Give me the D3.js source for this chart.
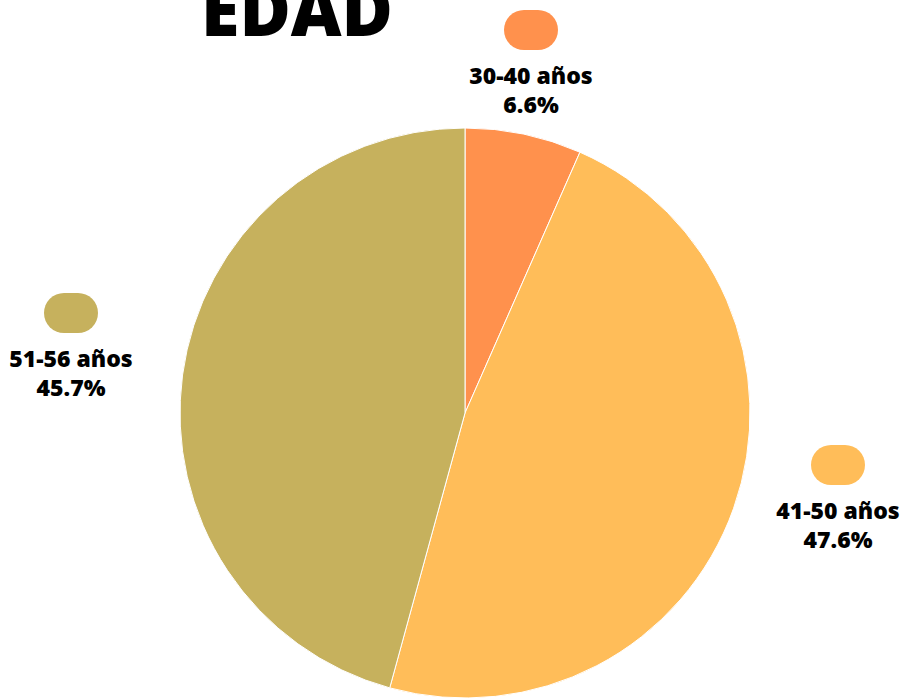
<!DOCTYPE html>
<html>
<head>
<meta charset="utf-8">
<style>
  body { margin: 0; background: #fff; }
  text { font-family: "Open Sans", sans-serif; }
</style>
<script src="https://d3js.org/d3.v7.min.js"></script>
</head>
<body>
<svg id="pie" width="903" height="700"></svg>
<script>
const categories = ["30-40 años", "41-50 años", "51-56 años"];
const values = [6.6, 47.6, 45.7];
const colors = ["#FF914D", "#FFBD59", "#C6B15D"];
// legend spots (pill + two text lines) per category
const legendPos = [[531, 30], [838, 465], [71, 313]];

const svg = d3.select("svg#pie");
const cx = 465, cy = 413, radius = 285;

const pie = d3.pie().sort(null).value(d => d);
const arc = d3.arc().innerRadius(0).outerRadius(radius);

let slices = svg.append("g")
  .attr("transform", "translate(" + cx + "," + cy + ")");

slices.selectAll("path")
  .data(pie(values))
  .enter().append("path")
  .attr("d", arc)
  .attr("fill", (d, i) => colors[i])
  .attr("stroke", "#fff")
  .attr("stroke-width", 1);

// title sits partly above the top edge, like the original
svg.append("text")
  .attr("x", 297)
  .attr("y", 36)
  .attr("text-anchor", "middle")
  .style("font-size", "70px")
  .style("font-weight", 800)
  .attr("fill", "#000")
  .text("EDAD");

let legend = svg.append("g");

categories.forEach((c, i) => {
  let p = legendPos[i];
  legend.append("rect")
    .attr("x", p[0] - 27)
    .attr("y", p[1] - 20)
    .attr("width", 54)
    .attr("height", 40)
    .attr("rx", 20)
    .attr("fill", colors[i]);

  legend.append("text")
    .attr("x", p[0])
    .attr("y", p[1] + 54)
    .attr("text-anchor", "middle")
    .style("font-size", "23px")
    .style("font-weight", 800)
    .text(c);

  legend.append("text")
    .attr("x", p[0])
    .attr("y", p[1] + 83)
    .attr("text-anchor", "middle")
    .style("font-size", "23px")
    .style("font-weight", 800)
    .text(values[i].toFixed(1) + "%");
});
</script>
</body>
</html>
